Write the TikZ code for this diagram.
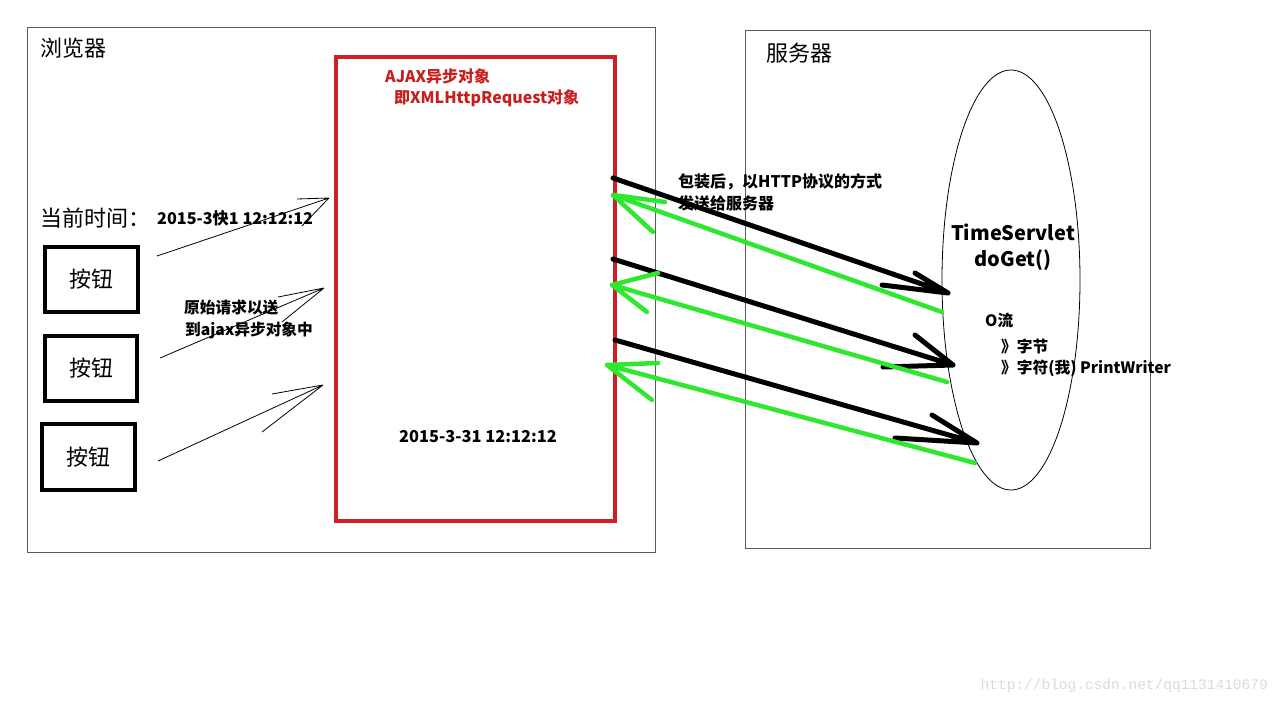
\documentclass[tikz,border=0pt]{standalone}
\usepackage{fontspec}
\usetikzlibrary{shapes.geometric}
\setmainfont{Noto Sans CJK SC}
\newfontfamily\wmfont{Liberation Mono}
\definecolor{boxred}{RGB}{205,32,38}
\definecolor{txtred}{RGB}{200,30,30}
\definecolor{hgreen}{RGB}{46,232,46}
\definecolor{thin}{RGB}{90,90,90}
\begin{document}
\begin{tikzpicture}[x=1pt,y=-1pt,
  frame/.style={draw=thin,line width=0.8pt},
  btn/.style={draw=black,line width=3.5pt,inner sep=0pt,font=\fontsize{22}{24}\selectfont},
  thinarrow/.style={draw=black,line width=0.8pt},
  blackarrow/.style={draw=black,line width=5pt,line cap=round},
  greenarrow/.style={draw=hgreen,line width=4.5pt,line cap=round},
  lbl/.style={inner sep=0pt,font=\fontsize{15.7}{17}\selectfont\bfseries},
  redlbl/.style={inner sep=0pt,text=txtred,font=\fontsize{16}{18}\selectfont\bfseries},
  big/.style={inner sep=0pt,font=\fontsize{22}{24}\selectfont}]
\useasboundingbox (0,0) rectangle (1280,706);
\fill[white] (0,0) rectangle (1280,706);
% frames
\node[frame,minimum width=628pt,minimum height=525pt,anchor=north west,inner sep=0pt] (browser) at (27,27) {};
\node[frame,minimum width=405pt,minimum height=518pt,anchor=north west,inner sep=0pt] (server) at (745,30) {};
\node[draw=boxred,line width=4pt,minimum width=279pt,minimum height=464pt,anchor=north west,inner sep=0pt] (ajax) at (334,55) {};
\node[draw=black,line width=0.8pt,ellipse,minimum width=138pt,minimum height=420pt,inner sep=0pt] (servlet) at (1011,280) {};
% titles
\node[big,anchor=west] (tb) at (40,48) {浏览器};
\node[big,anchor=west] (ts) at (766,53) {服务器};
\node[redlbl,anchor=west] (r1) at (385,76) {AJAX异步对象};
\node[redlbl,anchor=west] (r2) at (394,98) {即XMLHttpRequest对象};
\node[big,anchor=west] (now) at (40,218) {当前时间：};
\node[lbl,anchor=west,font=\fontsize{16.2}{18}\selectfont\bfseries] (date1) at (157,218) {2015-3快1 12:12:12};
% buttons
\node[btn,minimum width=93pt,minimum height=65pt] (b1) at (91.5,279.5) {按钮};
\node[btn,minimum width=92pt,minimum height=65pt] (b2) at (91,368.5) {按钮};
\node[btn,minimum width=93pt,minimum height=66pt] (b3) at (88.5,457) {按钮};
\node[lbl,anchor=west] (req1) at (184,308) {原始请求以送};
\node[lbl,anchor=west] (req2) at (185,330) {到ajax异步对象中};
\node[lbl,font=\fontsize{16.4}{18}\selectfont\bfseries] (date2) at (478,437) {2015-3-31 12:12:12};
\node[lbl,anchor=west,font=\fontsize{16}{18}\selectfont\bfseries] (http1) at (678,182) {包装后，以HTTP协议的方式};
\node[lbl,anchor=west,font=\fontsize{16}{18}\selectfont\bfseries] (http2) at (678,203) {发送给服务器};
\node[lbl,font=\fontsize{20}{22}\selectfont\bfseries] (ts1) at (1013,232) {TimeServlet};
\node[lbl,font=\fontsize{20}{22}\selectfont\bfseries] (ts2) at (1013,260) {doGet()};
\node[lbl,anchor=west] (io) at (985,320) {O流};
\node[lbl,anchor=west] (io1) at (1001,346) {》字节};
\node[lbl,anchor=west] (io2) at (1001,368) {》字符(我) PrintWriter};
\node[inner sep=0pt,anchor=east,text=black!14,font=\wmfont\fontsize{14.5}{16}\selectfont] (wm) at (1268,686) {http://blog.csdn.net/qq1131410679};
% thin request arrows
\coordinate (s1) at (157,256); \coordinate (t1) at (329,198);
\coordinate (s2) at (160,358); \coordinate (t2) at (324,288);
\coordinate (s3) at (158,461); \coordinate (t3) at (323,385);
\draw[thinarrow] (s1) -- (t1) (297,199) -- (t1) (302,226) -- (t1);
\draw[thinarrow] (s2) -- (t2) (278,297) -- (t2) (282,322) -- (t2);
\draw[thinarrow] (s3) -- (t3) (272,394) -- (t3) (262,432) -- (t3);
% black arrows
\coordinate (k1s) at (613,178); \coordinate (k1t) at (948,293);
\coordinate (k2s) at (613,259); \coordinate (k2t) at (953,365);
\coordinate (k3s) at (615,340); \coordinate (k3t) at (977,443);
\draw[blackarrow] (k1s) -- (k1t) (915,273) -- (k1t) (882,285) -- (k1t);
\draw[blackarrow] (k2s) -- (k2t) (915,335) -- (k2t) (883,367) -- (k2t);
\draw[blackarrow] (k3s) -- (k3t) (932,415) -- (k3t) (895,438) -- (k3t);
% green arrows
\coordinate (g1s) at (942,312); \coordinate (g1t) at (613,195);
\coordinate (g2s) at (947,382); \coordinate (g2t) at (612,285);
\coordinate (g3s) at (975,463); \coordinate (g3t) at (607,365);
\draw[greenarrow] (g1s) -- (g1t) (665,202) -- (g1t) (653,232) -- (g1t);
\draw[greenarrow] (g2s) -- (g2t) (658,273) -- (g2t) (647,312) -- (g2t);
\draw[greenarrow] (g3s) -- (g3t) (658,363) -- (g3t) (652,400) -- (g3t);
\end{tikzpicture}
\end{document}
